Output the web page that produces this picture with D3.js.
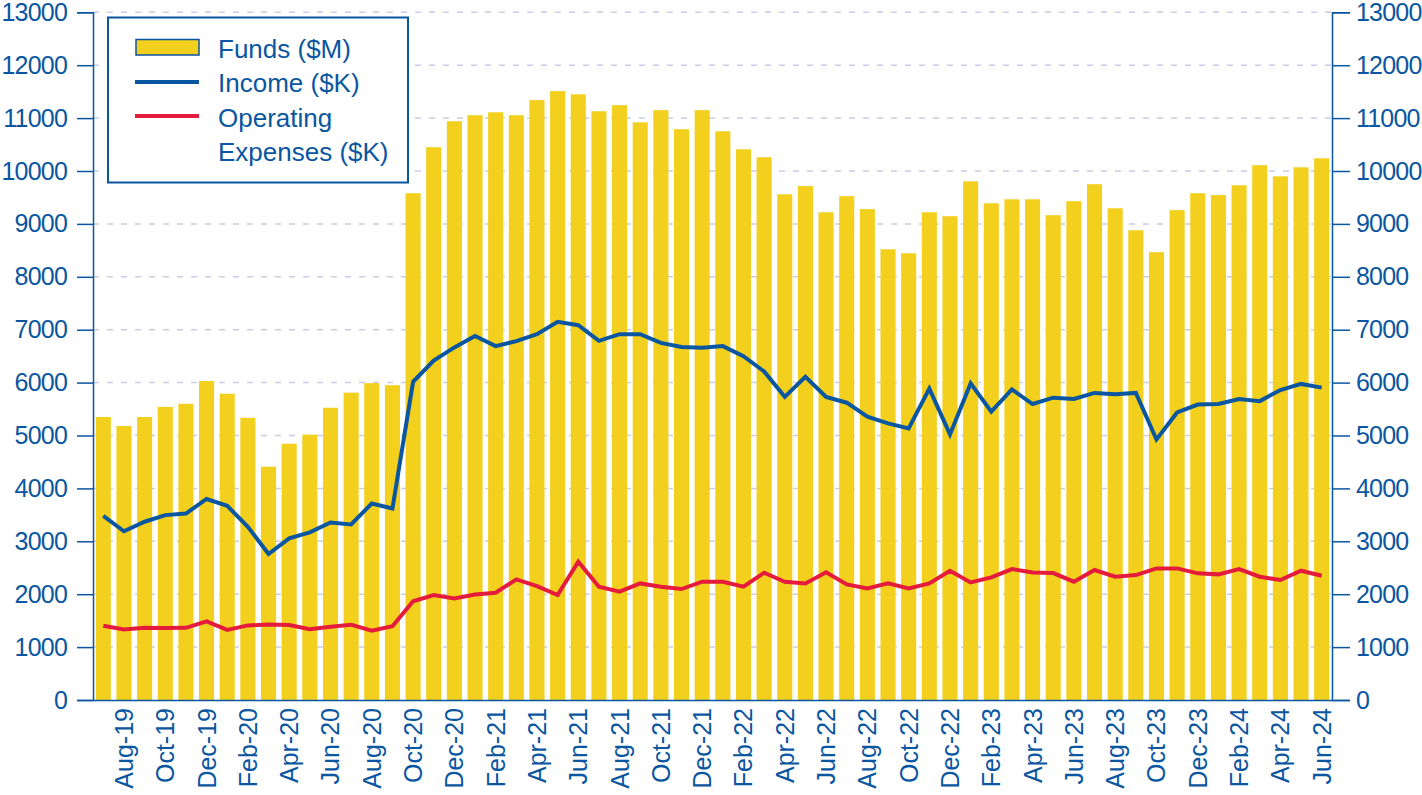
<!DOCTYPE html>
<html>
<head>
<meta charset="utf-8">
<script src="https://cdn.jsdelivr.net/npm/d3@7"></script>
<style>
  html, body { margin: 0; padding: 0; background: #fff; }
  svg { display: block; font-family: "Liberation Sans", Arial, sans-serif; }
</style>
</head>
<body>
<svg id="chart" width="1422" height="795"></svg>
<script>
const months = [
  "Jul-19","Aug-19","Sep-19","Oct-19","Nov-19","Dec-19",
  "Jan-20","Feb-20","Mar-20","Apr-20","May-20","Jun-20","Jul-20","Aug-20","Sep-20","Oct-20","Nov-20","Dec-20",
  "Jan-21","Feb-21","Mar-21","Apr-21","May-21","Jun-21","Jul-21","Aug-21","Sep-21","Oct-21","Nov-21","Dec-21",
  "Jan-22","Feb-22","Mar-22","Apr-22","May-22","Jun-22","Jul-22","Aug-22","Sep-22","Oct-22","Nov-22","Dec-22",
  "Jan-23","Feb-23","Mar-23","Apr-23","May-23","Jun-23","Jul-23","Aug-23","Sep-23","Oct-23","Nov-23","Dec-23",
  "Jan-24","Feb-24","Mar-24","Apr-24","May-24","Jun-24"
];
const funds = [
  5350,5180,5350,5540,5600,6030,
  5790,5335,4410,4845,5015,5525,5810,5990,5950,9580,10450,10940,
  11055,11110,11055,11340,11510,11450,11130,11245,10920,11150,10790,11150,
  10750,10410,10260,9560,9715,9220,9525,9280,8520,8445,9220,9145,
  9805,9390,9465,9465,9165,9430,9750,9295,8880,8465,9260,9580,
  9545,9730,10110,9900,10070,10240
];
const income = [
  3480,3190,3370,3495,3525,3800,
  3670,3275,2760,3055,3170,3355,3320,3715,3620,6015,6415,6665,
  6880,6690,6785,6915,7150,7085,6790,6915,6915,6750,6675,6660,
  6690,6500,6210,5730,6110,5730,5620,5355,5230,5135,5885,5020,
  5985,5450,5870,5595,5715,5690,5805,5780,5805,4925,5435,5585,
  5595,5690,5650,5860,5975,5905
];
const opex = [
  1405,1335,1365,1360,1365,1485,
  1325,1410,1425,1418,1336,1386,1424,1310,1395,1865,1984,1921,
  1996,2028,2280,2154,1984,2614,2142,2047,2204,2142,2097,2236,
  2236,2142,2406,2236,2204,2413,2184,2110,2204,2110,2204,2444,
  2223,2318,2475,2412,2400,2236,2457,2330,2362,2488,2488,2394,
  2375,2475,2330,2268,2444,2349
];
const yTicks = d3.range(0, 13001, 1000);
const tickLabels = months.filter((m, i) => i % 2 === 1);
const legendItems = ["Funds ($M)", "Income ($K)", "Operating", "Expenses ($K)"];

const BLUE = "#0a56a0";
const YELLOW = "#f2d01d";
const RED = "#e41b3d";
const GRID = "#c9cde6";

const svg = d3.select("#chart");
const mLeft = 93, mRight = 1332, mTop = 12.3, mBottom = 700;

const x = d3.scaleBand().domain(months).range([mLeft, mRight])
  .paddingInner(0.27).paddingOuter(0.135);
const y = d3.scaleLinear().domain([0, 13000]).range([mBottom, mTop]);

// gridlines
svg.append("g").selectAll("line").data(yTicks.filter(d => d > 0)).join("line")
  .attr("x1", mLeft).attr("x2", mRight)
  .attr("y1", d => y(d)).attr("y2", d => y(d))
  .attr("stroke", GRID).attr("stroke-width", 1.5)
  .attr("stroke-dasharray", "6,8");

// bars
svg.append("g").selectAll("rect").data(funds).join("rect")
  .attr("x", (d, i) => x(months[i]))
  .attr("width", x.bandwidth())
  .attr("y", d => y(d))
  .attr("height", d => mBottom - y(d))
  .attr("fill", YELLOW);

const cx = (d, i) => x(months[i]) + x.bandwidth() / 2;
const lineGen = d3.line().x(cx).y(d => y(d));

svg.append("path").datum(opex).attr("d", lineGen)
  .attr("fill", "none").attr("stroke", RED).attr("stroke-width", 4)
  .attr("stroke-linejoin", "miter");
svg.append("path").datum(income).attr("d", lineGen)
  .attr("fill", "none").attr("stroke", BLUE).attr("stroke-width", 4)
  .attr("stroke-linejoin", "miter");

// left axis
const yAxisL = d3.axisLeft(y).tickValues(yTicks).tickSize(16).tickPadding(10).tickFormat(d3.format("d"));
const gL = svg.append("g").attr("transform", `translate(${mLeft},0)`).call(yAxisL);
const yAxisR = d3.axisRight(y).tickValues(yTicks).tickSize(18).tickPadding(6).tickFormat(d3.format("d"));
const gR = svg.append("g").attr("transform", `translate(${mRight},0)`).call(yAxisR);
[gL, gR].forEach(g => {
  g.select(".domain").attr("stroke", BLUE).attr("stroke-width", 1.5);
  g.selectAll(".tick line").attr("stroke", BLUE).attr("stroke-width", 1.5);
  g.selectAll(".tick text").attr("fill", BLUE).attr("font-size", 25)
    .attr("letter-spacing", "-0.8px")
    .attr("font-family", "'Liberation Sans', Arial, sans-serif");
});

// bottom axis
const xAxis = d3.axisBottom(x).tickValues(tickLabels).tickSize(0).tickPadding(0);
const gB = svg.append("g").attr("transform", `translate(0,${mBottom})`).call(xAxis);
gB.select(".domain").attr("stroke", BLUE).attr("stroke-width", 1.5);
gB.selectAll(".tick text")
  .attr("fill", BLUE).attr("font-size", 25)
  .attr("font-family", "'Liberation Sans', Arial, sans-serif")
  .attr("text-anchor", "end")
  .attr("transform", "rotate(-90)")
  .attr("x", -8).attr("y", 0).attr("dy", "0.36em");

// legend
const lg = svg.append("g");
lg.append("rect").attr("x", 108).attr("y", 17.5).attr("width", 300).attr("height", 165)
  .attr("fill", "#fff").attr("stroke", BLUE).attr("stroke-width", 2);
lg.append("rect").attr("x", 136).attr("y", 39.5).attr("width", 63).attr("height", 15.5)
  .attr("fill", YELLOW).attr("stroke", BLUE).attr("stroke-width", 1.5);
lg.append("line").attr("x1", 135).attr("x2", 199).attr("y1", 82).attr("y2", 82)
  .attr("stroke", BLUE).attr("stroke-width", 4);
lg.append("line").attr("x1", 135).attr("x2", 199).attr("y1", 116).attr("y2", 116)
  .attr("stroke", RED).attr("stroke-width", 4);
const lgY = [58, 92, 127, 161];
lg.selectAll("text").data(legendItems).join("text")
  .attr("x", 218).attr("y", (d, i) => lgY[i])
  .attr("fill", BLUE).attr("font-size", 26)
  .text(d => d);
</script>
</body>
</html>
